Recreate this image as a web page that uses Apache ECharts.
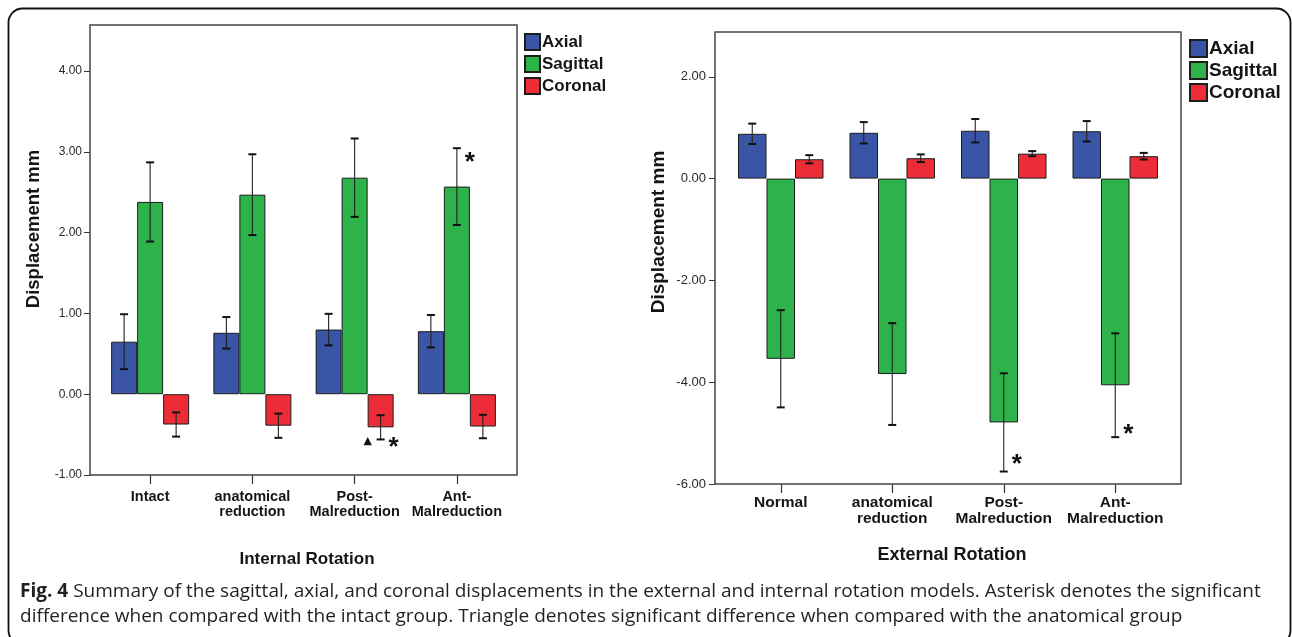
<!DOCTYPE html>
<html>
<head>
<meta charset="utf-8">
<script src="https://cdn.jsdelivr.net/npm/echarts@6/dist/echarts.min.js"></script>
<style>
html,body{margin:0;padding:0;background:#fff;}
#c{width:1292px;height:637px;}
</style>
</head>
<body>
<div id="c"></div>
<script>
// ---------------- DATA ----------------
const seriesNames = ['Axial', 'Sagittal', 'Coronal'];

const internalCategories = ['Intact', 'anatomical\nreduction', 'Post-\nMalreduction', 'Ant-\nMalreduction'];
const internalAxial = [0.65, 0.76, 0.80, 0.78];
const internalAxialErr = [0.34, 0.195, 0.195, 0.20];
const internalSagittal = [2.38, 2.47, 2.68, 2.57];
const internalSagittalErr = [0.49, 0.50, 0.485, 0.475];
const internalCoronal = [-0.375, -0.39, -0.41, -0.40];
const internalCoronalErr = [0.15, 0.15, 0.15, 0.145];
const internalTicks = [-1, 0, 1, 2, 3, 4];
const internalMarks = [
  { category: 3, series: 'Sagittal', value: 2.95, text: '*' },
  { category: 2, series: 'Coronal', value: -0.58, text: '\u25B2' },
  { category: 2, series: 'Coronal', value: -0.58, text: '*' }
];

const externalCategories = ['Normal', 'anatomical\nreduction', 'Post-\nMalreduction', 'Ant-\nMalreduction'];
const externalAxial = [0.88, 0.90, 0.94, 0.93];
const externalAxialErr = [0.20, 0.21, 0.23, 0.20];
const externalSagittal = [-3.54, -3.84, -4.79, -4.06];
const externalSagittalErr = [0.955, 1.00, 0.965, 1.02];
const externalCoronal = [0.38, 0.40, 0.49, 0.44];
const externalCoronalErr = [0.08, 0.075, 0.05, 0.065];
const externalTicks = [-6, -4, -2, 0, 2];
const externalMarks = [
  { category: 2, series: 'Sagittal', value: -5.48, text: '*' },
  { category: 3, series: 'Sagittal', value: -4.90, text: '*' }
];

const captionBold = 'Fig. 4';
const captionLine1 = ' Summary of the sagittal, axial, and coronal displacements in the external and internal rotation models. Asterisk denotes the significant';
const captionLine2 = 'difference when compared with the intact group. Triangle denotes significant difference when compared with the anatomical group';

// ---------------- STYLE / LAYOUT ----------------
const FONT = '"Liberation Sans", Arial, Helvetica, sans-serif';
const CAP_FONT = '"Open Sans", "Noto Sans", sans-serif';
const colors = { Axial: '#3b55a6', Sagittal: '#2db34a', Coronal: '#ec2d37' };
const TXT = '#151515';

const panels = [
  {
    cats: internalCategories,
    vals: [internalAxial, internalSagittal, internalCoronal],
    errs: [internalAxialErr, internalSagittalErr, internalCoronalErr],
    ticks: internalTicks, marks: internalMarks,
    min: -1, max: 4.57, interval: 1,
    box: { x: 90, y: 25, w: 427, h: 450 }, pad: 9, barW: 26,
    tickFont: 12, catFont: 14.5, catLH: 15, catMargin: 14, yOffset: 9, yMargin: 8,
    legend: { left: 519, top: 28, w: 15, h: 16, font: 17, lh: 18, gap: 4 }
  },
  {
    cats: externalCategories,
    vals: [externalAxial, externalSagittal, externalCoronal],
    errs: [externalAxialErr, externalSagittalErr, externalCoronalErr],
    ticks: externalTicks, marks: externalMarks,
    min: -6, max: 2.88, interval: 2,
    box: { x: 715, y: 32, w: 466, h: 452 }, pad: 10, barW: 28.5,
    tickFont: 13, catFont: 15.5, catLH: 16, catMargin: 11, yOffset: 10, yMargin: 9,
    legend: { left: 1184, top: 34, w: 17, h: 17, font: 19, lh: 19, gap: 3 }
  }
];

function fitCaptionSize(target) {
  const ctx = document.createElement('canvas').getContext('2d');
  ctx.font = 'bold 100px ' + CAP_FONT;
  const wb = ctx.measureText(captionBold).width;
  ctx.font = '100px ' + CAP_FONT;
  const wr = ctx.measureText(captionLine1).width;
  return 100 * target / (wb + wr);
}

const grids = [], xAxes = [], yAxes = [], series = [], legends = [], graphics = [];

panels.forEach((p, pi) => {
  grids.push({ left: p.box.x + p.pad, top: p.box.y, width: p.box.w - 2 * p.pad, height: p.box.h, containLabel: false });
  xAxes.push({
    type: 'category', gridIndex: pi, data: p.cats,
    axisLine: { show: false, onZero: false },
    axisTick: { show: true, alignWithLabel: true, length: 9, lineStyle: { color: '#333', width: 1.2 } },
    axisLabel: { fontFamily: FONT, fontSize: p.catFont, fontWeight: 'bold', lineHeight: p.catLH, color: TXT, margin: p.catMargin, interval: 0 },
    splitLine: { show: false }
  });
  yAxes.push({
    type: 'value', gridIndex: pi, min: p.min, max: p.max, interval: p.interval, offset: p.yOffset,
    axisLine: { show: false },
    axisTick: { show: true, length: 6, lineStyle: { color: '#333' }, customValues: p.ticks },
    axisLabel: { customValues: p.ticks, formatter: v => Number(v).toFixed(2), fontFamily: FONT, fontSize: p.tickFont, color: '#2a2a2a', margin: p.yMargin },
    splitLine: { show: false }
  });
  seriesNames.forEach((name, si) => {
    series.push({
      type: 'bar', name, xAxisIndex: pi, yAxisIndex: pi,
      data: p.vals[si], barWidth: p.barW, barGap: '0%',
      itemStyle: { color: colors[name], borderColor: '#1d1d1d', borderWidth: 1 },
      z: 2
    });
  });
  seriesNames.forEach((name, si) => {
    const barW = p.barW;
    series.push({
      type: 'custom', name: name + ' error', xAxisIndex: pi, yAxisIndex: pi, z: 5,
      silent: true,
      data: p.vals[si].map((v, i) => [i, v, p.errs[si][i]]),
      renderItem: function (params, api) {
        const c = api.value(0), m = api.value(1), e = api.value(2);
        const a = api.coord([c, m + e]);
        const b = api.coord([c, m - e]);
        const x = a[0] + (si - 1) * barW;
        const cap = 4;
        const st = { stroke: '#222', lineWidth: 1.1 };
        return {
          type: 'group', children: [
            { type: 'line', shape: { x1: x, y1: a[1], x2: x, y2: b[1] }, style: st },
            { type: 'line', shape: { x1: x - cap, y1: a[1], x2: x + cap, y2: a[1] }, style: { stroke: '#111', lineWidth: 2 } },
            { type: 'line', shape: { x1: x - cap, y1: b[1], x2: x + cap, y2: b[1] }, style: { stroke: '#111', lineWidth: 2 } }
          ]
        };
      }
    });
  });
  // significance markers
  series.push({
    type: 'custom', name: 'markers' + pi, xAxisIndex: pi, yAxisIndex: pi, z: 6, silent: true,
    data: p.marks.map(m => [m.category, m.value, seriesNames.indexOf(m.series), m.text === '*' ? 1 : -1]),
    renderItem: function (params, api) {
      const mk = p.marks[params.dataIndex];
      const pt = api.coord([api.value(0), api.value(1)]);
      const si = api.value(2), side = api.value(3);
      const x = pt[0] + (si - 1) * p.barW + side * 13;
      if (mk.text === '*') {
        return { type: 'text', x: x, y: pt[1] + 7, style: { text: mk.text, font: 'bold 26px ' + FONT, fill: '#111', align: 'center', verticalAlign: 'middle' } };
      }
      return { type: 'text', x: x, y: pt[1], style: { text: mk.text, font: '11px "DejaVu Sans", sans-serif', fill: '#111', align: 'center', verticalAlign: 'middle' } };
    }
  });
  legends.push({
    show: true, orient: 'vertical', left: p.legend.left, top: p.legend.top,
    itemWidth: p.legend.w, itemHeight: p.legend.h, itemGap: p.legend.gap,
    icon: 'rect', selectedMode: false, data: seriesNames,
    textStyle: { fontFamily: FONT, fontSize: p.legend.font, fontWeight: 'bold', color: TXT, lineHeight: p.legend.lh, padding: [0, 0, 0, -3] }
  });
  graphics.push({
    type: 'rect', silent: true, z: 10,
    shape: { x: p.box.x, y: p.box.y, width: p.box.w, height: p.box.h },
    style: { fill: 'none', stroke: '#444', lineWidth: 1.5 }
  });
});

// axis titles
graphics.push(
  { type: 'text', x: 307, y: 559, style: { text: 'Internal Rotation', font: 'bold 17px ' + FONT, fill: TXT, align: 'center', verticalAlign: 'middle' } },
  { type: 'text', x: 952, y: 555, style: { text: 'External Rotation', font: 'bold 18px ' + FONT, fill: TXT, align: 'center', verticalAlign: 'middle' } },
  { type: 'text', x: 34, y: 229, rotation: Math.PI / 2, style: { text: 'Displacement mm', font: 'bold 18.5px ' + FONT, fill: TXT, align: 'center', verticalAlign: 'middle' } },
  { type: 'text', x: 659, y: 232, rotation: Math.PI / 2, style: { text: 'Displacement mm', font: 'bold 19px ' + FONT, fill: TXT, align: 'center', verticalAlign: 'middle' } }
);

// frame and caption
const capSize = fitCaptionSize(1242);
graphics.push(
  { type: 'rect', silent: true, shape: { x: 8.5, y: 8.5, width: 1282, height: 636, r: 14 }, style: { fill: 'none', stroke: '#111', lineWidth: 1.8 } },
  { type: 'text', x: 20, y: 592, style: { text: '{b|' + captionBold + '}' + captionLine1, font: capSize.toFixed(2) + 'px ' + CAP_FONT, fill: '#231f20', verticalAlign: 'middle',
      rich: { b: { fontWeight: 'bold', fontFamily: CAP_FONT, fontSize: capSize, fill: '#231f20' } } } },
  { type: 'text', x: 20, y: 617, style: { text: captionLine2, font: capSize.toFixed(2) + 'px ' + CAP_FONT, fill: '#231f20', verticalAlign: 'middle' } }
);

const chart = echarts.init(document.getElementById('c'), null, { renderer: 'canvas' });
chart.setOption({
  animation: false,
  backgroundColor: '#fff',
  grid: grids, xAxis: xAxes, yAxis: yAxes,
  legend: legends,
  series: series,
  graphic: graphics
});
</script>
</body>
</html>
